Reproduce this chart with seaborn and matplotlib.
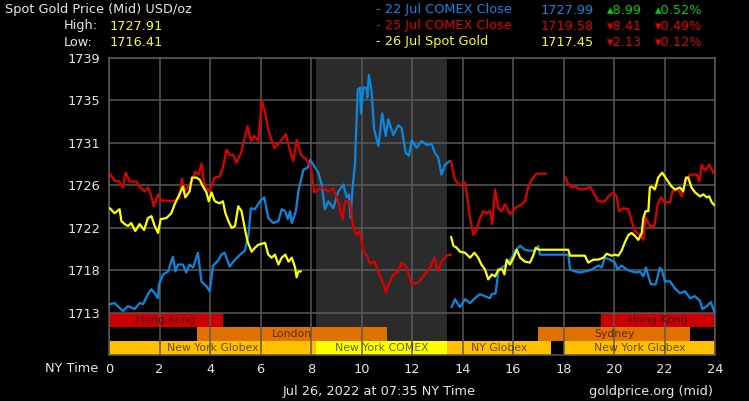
import numpy as np
import pandas as pd
import seaborn as sns
from matplotlib import pyplot as plt

# NY time (hours) and price, NaN splits a line into pieces
blue_hours = [0.03, 0.22, 0.55, 0.75, 1.02, 1.21, 1.35, 1.54, 1.68, 1.81, 1.94, 1.98, 2.14, 2.34, 2.53, 2.63,
              2.73, 2.93, 3.06, 3.19, 3.33, 3.52, 3.66, 3.86, 3.99, 4.12, 4.32, 4.45, 4.58, 4.78, 4.99, 5.19,
              5.38, 5.52, 5.62, 5.78, 5.98, 6.15, 6.31, 6.51, 6.71, 6.84, 6.98, 7.08, 7.17, 7.24, 7.4, 7.5,
              7.7, 7.87, 7.96, 8.09, 8.29, 8.42, 8.55, 8.69, 8.88, 9.08, 9.28, 9.41, 9.5, 9.57, 9.64, 9.74,
              9.85, 9.94, 9.98, 10.07, 10.2, 10.23, 10.29, 10.4, 10.5, 10.67, 10.82, 10.96, 11.06, 11.26,
              11.46, 11.59, 11.75, 11.88, 11.99, 12.18, 12.38, 12.58, 12.78, 12.91, 13.04, 13.17, 13.31, 13.5,
              np.nan,
              13.57, 13.7, 13.9, 14.1, 14.3, 14.49, 14.69, 14.89, 15.09, 15.16, 15.31, 15.42, 15.55, 15.75,
              15.95, 16.08, 16.28, 16.47, 16.67, 16.87, 17.0, 17.07, 17.6, 18.19, 18.26, 18.46, 18.65, 18.85,
              19.12, 19.38, 19.51, 19.64, 19.84, 20.04, 20.14, 20.3, 20.5, 20.7, 20.89, 21.02, 21.16, 21.27,
              21.36, 21.47, 21.65, 21.82, 21.91, 22.02, 22.22, 22.41, 22.61, 22.81, 23.01, 23.21, 23.41,
              23.5, 23.67, 23.84, 23.93, 24.0]
blue_prices = [1714.3, 1714.4, 1713.6, 1714.1, 1713.8, 1714.4, 1714.3, 1715.3, 1715.8, 1715.4, 1714.9, 1716.3,
               1717.3, 1717.6, 1719.1, 1717.6, 1718.3, 1718.3, 1717.5, 1718.3, 1718.0, 1719.5, 1716.6, 1716.1,
               1715.6, 1718.2, 1718.7, 1719.3, 1719.5, 1718.1, 1718.8, 1719.3, 1719.7, 1721.2, 1724.0, 1723.9,
               1724.7, 1725.1, 1723.0, 1722.5, 1722.7, 1723.9, 1723.7, 1722.9, 1723.7, 1722.5, 1723.7, 1725.7,
               1727.9, 1728.1, 1728.9, 1728.4, 1727.6, 1726.4, 1723.9, 1724.7, 1724.0, 1725.7, 1726.4, 1725.1,
               1725.4, 1723.0, 1725.9, 1728.4, 1736.0, 1736.2, 1733.6, 1736.2, 1736.2, 1735.2, 1737.5, 1735.8,
               1732.0, 1730.3, 1733.6, 1731.3, 1733.0, 1731.4, 1732.4, 1732.1, 1729.6, 1729.3, 1730.9, 1730.1,
               1730.8, 1730.4, 1730.5, 1729.6, 1729.1, 1727.4, 1728.4, 1728.8,
               np.nan,
               1714.0, 1714.8, 1714.0, 1714.8, 1714.4, 1714.9, 1715.3, 1715.1, 1714.9, 1715.3, 1715.4, 1717.6,
               1718.0, 1718.3, 1719.0, 1719.7, 1720.2, 1719.8, 1719.7, 1719.7, 1720.2, 1719.3, 1719.3, 1719.3,
               1717.8, 1717.6, 1717.5, 1717.6, 1717.8, 1718.2, 1718.0, 1719.0, 1718.8, 1718.5, 1717.8, 1718.2,
               1717.8, 1717.6, 1717.5, 1717.6, 1717.1, 1718.0, 1717.1, 1716.3, 1716.3, 1718.0, 1717.6, 1716.6,
               1716.6, 1715.9, 1715.4, 1715.6, 1714.9, 1715.1, 1714.6, 1713.8, 1714.1, 1714.5, 1713.8, 1713.4]

red_hours = [0.0, 0.22, 0.4, 0.55, 0.66, 0.82, 1.08, 1.21, 1.41, 1.55, 1.65, 1.78, 1.94, 2.07, 2.6, 2.8, 2.89,
             3.0, 3.2, 3.42, 3.55, 3.66, 3.79, 3.99, 4.18, 4.38, 4.51, 4.65, 4.78, 4.92, 5.05, 5.23, 5.32,
             5.49, 5.62, 5.75, 5.91, 6.05, 6.18, 6.31, 6.55, 6.75, 7.0, 7.17, 7.3, 7.43, 7.6, 7.83, 8.0, 8.13,
             8.42, 8.69, 8.88, 9.08, 9.25, 9.35, 9.54, 9.67, 9.8, 9.93, 10.07, 10.2, 10.33, 10.53, 10.67,
             10.87, 10.96, 11.07, 11.26, 11.46, 11.59, 11.79, 11.99, 12.25, 12.51, 12.71, 12.89, 13.02, 13.17,
             13.37, 13.54,
             np.nan,
             13.54, 13.7, 13.9, 14.1, 14.23, 14.3, 14.43, 14.56, 14.69, 14.83, 14.96, 15.09, 15.18, 15.29,
             15.42, 15.55, 15.68, 15.88, 16.08, 16.34, 16.47, 16.6, 16.74, 16.93, 17.31,
             np.nan,
             18.06, 18.19, 18.33, 18.46, 18.65, 18.85, 19.05, 19.18, 19.38, 19.64, 19.78, 19.97, 20.1, 20.2,
             20.37, 20.57, 20.7, 20.83, 21.03, 21.16, 21.25, 21.42, 21.6, 21.73, 21.86, 22.02, 22.22, 22.31,
             22.55, 22.68, 22.81, 23.01, 23.28, 23.38, 23.47, 23.61, 23.77, 23.94, 24.0]
red_prices = [1727.6, 1726.8, 1726.7, 1726.1, 1727.6, 1726.7, 1726.7, 1726.2, 1725.7, 1726.1, 1725.4, 1724.2,
              1725.4, 1724.8, 1724.7, 1725.1, 1727.0, 1725.7, 1726.4, 1727.7, 1727.4, 1728.5, 1726.2, 1725.7,
              1727.1, 1727.2, 1728.1, 1729.9, 1729.4, 1729.4, 1728.6, 1729.6, 1730.6, 1732.3, 1730.8, 1731.3,
              1730.8, 1734.9, 1733.7, 1731.9, 1730.1, 1730.6, 1731.5, 1729.8, 1728.8, 1730.9, 1729.4, 1728.9,
              1728.1, 1725.6, 1726.1, 1725.7, 1726.0, 1724.7, 1722.9, 1724.7, 1724.7, 1722.0, 1721.3, 1721.7,
              1719.6, 1719.3, 1718.4, 1718.6, 1717.6, 1716.3, 1715.5, 1716.3, 1717.3, 1717.6, 1718.5, 1718.0,
              1716.3, 1716.5, 1717.3, 1718.0, 1719.0, 1717.6, 1718.6, 1719.2, 1719.3,
              np.nan,
              1728.8, 1726.9, 1726.3, 1726.6, 1724.4, 1723.0, 1721.3, 1721.8, 1723.0, 1723.7, 1723.5, 1723.7,
              1722.4, 1725.9, 1724.0, 1723.7, 1724.4, 1723.4, 1724.0, 1724.4, 1724.7, 1726.1, 1726.9, 1727.5,
              1727.5,
              np.nan,
              1727.2, 1726.4, 1726.1, 1726.2, 1725.9, 1725.9, 1726.2, 1725.6, 1724.7, 1724.7, 1725.2, 1725.6,
              1725.2, 1723.7, 1724.0, 1723.9, 1722.7, 1721.7, 1721.3, 1720.8, 1723.1, 1722.2, 1722.2, 1724.4,
              1725.1, 1724.6, 1724.6, 1725.7, 1725.9, 1725.2, 1726.7, 1727.4, 1727.4, 1726.7, 1728.4, 1727.8,
              1728.4, 1727.6, 1727.4]

yellow_hours = [0.03, 0.22, 0.42, 0.49, 0.62, 0.75, 0.88, 1.04, 1.21, 1.39, 1.54, 1.68, 1.81, 1.94, 2.05,
                2.27, 2.47, 2.6, 2.73, 2.93, 3.02, 3.19, 3.29, 3.46, 3.59, 3.72, 3.86, 3.95, 4.06, 4.19, 4.38,
                4.51, 4.61, 4.73, 4.86, 4.99, 5.12, 5.25, 5.39, 5.49, 5.65, 5.78, 5.91, 6.18, 6.31, 6.44, 6.57,
                6.71, 6.84, 6.98, 7.11, 7.24, 7.37, 7.43, 7.5, 7.6,
                np.nan,
                13.55, 13.64, 13.77, 13.9, 14.1, 14.3, 14.47, 14.62, 14.75, 14.89, 15.02, 15.16, 15.29, 15.42,
                15.58, 15.66, 15.75, 15.88, 16.02, 16.15, 16.28, 16.47, 16.67, 16.8, 16.9, 17.03, 18.19, 18.26,
                18.46, 18.65, 18.85, 18.98, 19.18, 19.38, 19.58, 19.71, 19.9, 20.04, 20.17, 20.3, 20.44, 20.57,
                20.7, 20.83, 20.96, 21.1, 21.16, 21.25, 21.36, 21.42, 21.49, 21.62, 21.75, 21.91, 22.09, 22.28,
                22.41, 22.61, 22.74, 22.85, 22.94, 23.07, 23.21, 23.41, 23.54, 23.67, 23.77, 23.87, 23.98]
yellow_prices = [1724.0, 1723.5, 1723.9, 1722.7, 1722.4, 1722.2, 1722.5, 1721.7, 1722.4, 1721.8, 1723.0,
                 1723.2, 1722.2, 1721.5, 1722.9, 1723.0, 1723.5, 1724.4, 1725.1, 1726.2, 1725.1, 1725.7, 1727.1,
                 1727.1, 1726.9, 1726.2, 1725.6, 1724.7, 1725.6, 1724.7, 1724.5, 1724.7, 1723.5, 1722.7, 1722.0,
                 1722.2, 1724.2, 1723.7, 1721.8, 1720.6, 1719.6, 1720.0, 1720.3, 1720.5, 1719.3, 1719.0, 1719.3,
                 1718.3, 1719.0, 1719.3, 1718.6, 1719.0, 1718.0, 1717.0, 1717.6, 1717.6,
                 np.nan,
                 1721.1, 1720.2, 1720.0, 1719.6, 1719.5, 1719.0, 1719.5, 1719.0, 1718.3, 1717.8, 1716.8, 1717.3,
                 1717.1, 1717.8, 1717.8, 1717.3, 1718.8, 1718.3, 1719.0, 1719.8, 1719.0, 1718.6, 1718.5, 1719.2,
                 1720.0, 1719.8, 1719.8, 1719.2, 1719.2, 1719.2, 1719.2, 1718.5, 1718.8, 1718.8, 1719.0, 1719.4,
                 1719.2, 1719.3, 1719.2, 1719.7, 1720.6, 1721.3, 1721.5, 1721.2, 1720.8, 1721.5, 1723.0, 1723.7,
                 1723.7, 1726.1, 1726.2, 1725.9, 1727.1, 1727.6, 1726.9, 1726.2, 1725.9, 1726.1, 1725.7, 1727.1,
                 1727.1, 1726.1, 1725.6, 1725.2, 1725.4, 1725.1, 1725.2, 1724.6, 1724.3]

# trading sessions (row 0 = top)
session_names = ['Hong Kong', 'Hong Kong', 'London', 'Sydney',
                 'New York Globex', 'New York COMEX', 'NY Globex', 'New York Globex']
session_start = [0, 19.5, 3.5, 17, 0, 8.2, 13.4, 18]
session_end = [4.5, 24, 11, 23, 8.2, 13.4, 17.5, 24]
session_row = [0, 0, 1, 1, 2, 2, 2, 2]
comex_open = (8.2, 13.4)

y_ticks_labels = ['1713', '1718', '1722', '1726', '1731', '1735', '1739']
x_ticks = list(range(0, 25, 2))

BLUE = '#0a88e0'
RED = '#dd0000'
YELLOW = '#ffff00'
FG = '#e6e6e6'
GRID = '#5a5a5a'


def to_frame(name, hours, prices):
    d = pd.DataFrame({'hour': hours, 'price': prices})
    d['segment'] = d['hour'].isna().cumsum()
    d = d.dropna()
    d['series'] = name
    d['segment'] = name + d['segment'].astype(str)
    return d


def main():
    sns.set_theme(style='dark', rc={'figure.facecolor': 'black', 'axes.facecolor': 'black',
                                    'axes.edgecolor': GRID, 'text.color': FG,
                                    'xtick.color': FG, 'ytick.color': FG})
    plt.rcParams['font.family'] = ['DejaVu Sans']

    df = pd.concat([to_frame('22 Jul', blue_hours, blue_prices),
                    to_frame('25 Jul', red_hours, red_prices),
                    to_frame('26 Jul', yellow_hours, yellow_prices)], ignore_index=True)

    fig = plt.figure(figsize=(7.49, 4.01), dpi=100)
    ax = fig.add_axes([109 / 749, 1 - 355 / 401, 606 / 749, 297 / 401])

    top, bottom_price = 1739.2, 1713.4
    row_h = 14 / (255 / (top - bottom_price))
    ax.set_ylim(bottom_price - 3 * row_h, top)
    ax.set_xlim(0, 24)

    # shaded COMEX hours
    ax.axvspan(*comex_open, color='#2b2b2b', zorder=0.5, lw=0)

    colors = {'Hong Kong': '#cc0000', 'London': '#e07000', 'Sydney': '#e07000',
              'New York Globex': '#ffc000', 'NY Globex': '#ffc000', 'New York COMEX': '#ffff00'}
    for name, s, e, r in zip(session_names, session_start, session_end, session_row):
        yc = bottom_price - (r + 0.5) * row_h
        ax.barh(yc, e - s, left=s, height=row_h * 0.93, color=colors[name], zorder=1, lw=0)
        ax.text((s + e) / 2, yc, name, ha='center', va='center', fontsize=7.8,
                color='black', alpha=0.6, zorder=4)

    sns.lineplot(data=df, x='hour', y='price', hue='series', units='segment', estimator=None,
                 sort=False, palette={'22 Jul': BLUE, '25 Jul': RED, '26 Jul': YELLOW},
                 lw=1.6, legend=False, ax=ax, zorder=3)

    yt = np.linspace(bottom_price, top, 7)
    ax.set_yticks(yt)
    ax.set_yticklabels(y_ticks_labels)
    ax.set_xticks(x_ticks)
    ax.set_xticklabels([str(x) for x in x_ticks])
    ax.tick_params(axis='both', length=3, color=GRID, labelsize=9.3, pad=3)
    ax.grid(True, color=GRID, lw=1.1, zorder=2)
    ax.set_axisbelow(False)
    for line in ax.get_xgridlines() + ax.get_ygridlines():
        line.set_zorder(2)
    ax.set_xlabel('')
    ax.set_ylabel('')
    for sp in ax.spines.values():
        sp.set_color(GRID)
        sp.set_linewidth(1.1)

    def px(x, y, s, color=FG, ha='left'):
        fig.text(x / 749, 1 - y / 401, s, color=color, ha=ha, va='center', fontsize=9.3)

    px(5, 10, 'Spot Gold Price (Mid) USD/oz')
    px(64, 26, 'High:')
    px(110, 26, '1727.91', YELLOW)
    px(64, 42, 'Low:')
    px(110, 42, '1716.41', YELLOW)

    px(376, 10, '- 22 Jul COMEX Close', BLUE)
    px(541, 10, '1727.99', BLUE)
    px(607, 10, '\u25b48.99', '#00cc00')
    px(655, 10, '\u25b40.52%', '#00cc00')
    px(376, 26, '- 25 Jul COMEX Close', RED)
    px(541, 26, '1719.58', RED)
    px(607, 26, '\u25be8.41', RED)
    px(655, 26, '\u25be0.49%', RED)
    px(376, 42, '- 26 Jul Spot Gold', YELLOW)
    px(541, 42, '1717.45', YELLOW)
    px(607, 42, '\u25be2.13', RED)
    px(655, 42, '\u25be0.12%', RED)

    px(45, 368, 'NY Time')
    px(283, 392, 'Jul 26, 2022 at 07:35 NY Time')
    px(713, 392, 'goldprice.org (mid)', ha='right')

    plt.savefig('out.png', dpi=100, facecolor='black')


if __name__ == '__main__':
    main()
